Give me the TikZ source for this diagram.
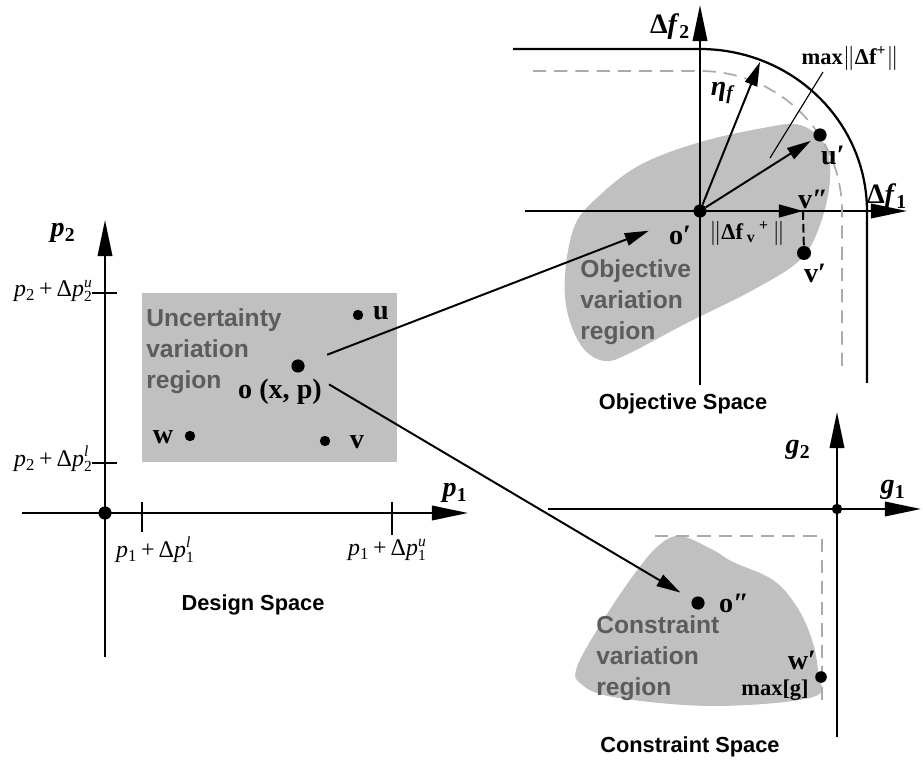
\documentclass[tikz,border=0pt]{standalone}
\usepackage{fontspec}
\setmainfont{Liberation Serif}
\setsansfont{Liberation Sans}
\usetikzlibrary{arrows.meta,positioning}

\definecolor{regionfill}{RGB}{192,192,192}
\definecolor{regiontext}{RGB}{92,92,92}
\definecolor{boundgray}{RGB}{170,170,170}

\newcommand\axlab[2]{\textbf{\textit{#1}}\textsubscript{\textbf{#2}}}
\newcommand\scrstack[2]{\raisebox{-0.2em}{\fontsize{11}{11}\selectfont\shortstack[l]{#1\\#2}}}
\newcommand\pdelta[2]{\textit{p}\textsubscript{#1}\,+\,Δ\textit{p}\scrstack{\textit{#2}}{#1}}

\tikzset{
  dot/.style={
    shape = circle,
    fill,
    inner sep = 0pt,
    minimum size = 0.33cm
  },
  smalldot/.style={
    dot,
    minimum size = 0.26cm
  },
  axis/.style={
    line width = 1.6pt,
    -{Triangle[length=0.9cm,width=0.36cm]}
  },
  flow/.style={
    line width = 1.4pt,
    -{Triangle[length=0.6cm,width=0.32cm]}
  },
  bound/.style={
    line width = 1.2pt,
    boundgray,
    dash pattern = on 0.33cm off 0.2cm
  },
  ptlabel/.style={
    inner sep = 0pt,
    font = \fontsize{20}{24}\selectfont\bfseries
  },
  smalllabel/.style={
    inner sep = 0pt,
    font = \fontsize{16}{19}\selectfont\bfseries
  },
  mathlabel/.style={
    inner sep = 0pt,
    font = \fontsize{17}{20}\selectfont
  },
  regionlabel/.style={
    inner sep = 0pt,
    anchor = west,
    align = left,
    text = regiontext,
    font = \sffamily\bfseries\fontsize{17.5}{22}\selectfont
  },
  spacetitle/.style={
    inner sep = 0pt,
    font = \sffamily\bfseries\fontsize{15.5}{18}\selectfont
  }
}

\begin{document}
\begin{tikzpicture}[x=0.025cm, y=-0.025cm]
        \useasboundingbox (0,0) rectangle (923,761);

        % variation regions
        \fill[regionfill] (142,293) rectangle (397,462);
        \fill[regionfill] plot[smooth cycle, tension=0.6] coordinates {
            (575,225) (600,195) (640,165) (697,143) (763,128) (800,125) (825,145)
            (830,180) (820,225) (800,260) (753,290) (687,323) (630,353) (605,361)
            (583,348) (568,315) (565,275)};
        \fill[regionfill] plot[smooth cycle, tension=0.6] coordinates {
            (680,536) (713,550) (733,562) (773,580) (797,607) (812,640) (818,673)
            (813,697) (713,706) (613,697) (580,683) (577,667) (597,630) (630,580)
            (657,547)};

        % design space
        \draw[axis] (22,513) -- (468,513);
        \draw[axis] (105,657) -- (105,220);
        \draw[line width=1.6pt] (92,293) --++ (25,0);
        \draw[line width=1.6pt] (92,463) --++ (25,0);
        \draw[line width=1.6pt] (142,502) --++ (0,30);
        \draw[line width=1.6pt] (392,502) --++ (0,33);

        \node[dot] (porig) at (105,513) {};
        \node[dot] (o) at (298,366) {};
        \node[smalldot] (u) at (358,315) {};
        \node[smalldot] (w) at (190,436) {};
        \node[smalldot] (v) at (325,441) {};

        \node[ptlabel] (p2lab) at (63,233) {\axlab{p}{2}};
        \node[ptlabel] (p1lab) at (455,493) {\axlab{p}{1}};
        \node[mathlabel] (p2up) at (53,291) {\pdelta{2}{u}};
        \node[mathlabel] (p2lo) at (53,459) {\pdelta{2}{l}};
        \node[mathlabel] (p1lo) at (155,550) {\pdelta{1}{l}};
        \node[mathlabel] (p1up) at (387,550) {\pdelta{1}{u}};

        \node[regionlabel] (uvr) at (146,351) {Uncertainty\\variation\\region};
        \node[ptlabel] (ulab) at (381,313) {u};
        \node[ptlabel] (olab) at (280,392) {o (x, p)};
        \node[ptlabel] (wlab) at (163,437) {w};
        \node[ptlabel] (vlab) at (357,442) {v};
        \node[spacetitle] (dstitle) at (253,605) {Design Space};

        % objective space
        \draw[axis] (525,211) -- (907,211);
        \draw[axis] (700,385) -- (700,5);
        \draw[line width=1.6pt] (513,49) -- (700,49)
            -- plot[domain=-90:0, samples=40] ({700+167*cos(\x)},{211+162*sin(\x)}) -- (867,383);
        \draw[bound] (533,71) -- (700,71)
            -- plot[domain=-90:0, samples=40] ({700+142*cos(\x)},{211+140*sin(\x)}) -- (842,372);

        \node[dot] (oprime) at (700,211) {};
        \node[dot] (uprime) at (820,135) {};
        \node[dot, minimum size=0.35cm] (vprime) at (804,253) {};
        \coordinate (etatip) at (760,62);
        \coordinate (vdd) at (803,211);
        \coordinate (maxstart) at (823,72);
        \coordinate (maxend) at (770,158);

        \draw[flow] (oprime) -- (etatip);
        \draw[flow, shorten >=0.1cm] (oprime) -- (uprime);
        \draw[flow] (oprime) -- (vdd);
        \draw[line width=1.4pt, dash pattern=on 0.22cm off 0.1cm] (vdd) -- (vprime);
        \draw[line width=0.8pt] (maxstart) -- (maxend);

        \node[ptlabel] (df2lab) at (670,27) {\textbf{Δ}\axlab{f}{2}};
        \node[ptlabel] (df1lab) at (887,197) {\textbf{Δ}\axlab{f}{1}};
        \node[ptlabel] (etalab) at (723,93) {\textbf{\textit{η}}\textsubscript{\textit{f}}};
        \node[smalllabel] (maxlab) at (850,58) {max$\|$Δf\textsuperscript{+}$\|$};
        \node[ptlabel] (uplab) at (833,155) {u′};
        \node[ptlabel] (vddlab) at (813,199) {v″};
        \node[ptlabel] (vplab) at (815,273) {v′};
        \node[ptlabel] (oplab) at (680,235) {o′};
        \node[smalllabel] (normlab) at (747,233) {$\|$Δf\,\textsubscript{v}\,\textsuperscript{+}\,$\|$};
        \node[regionlabel] (ovr) at (580,302) {Objective\\variation\\region};
        \node[spacetitle] (ostitle) at (683,404) {Objective Space};

        % constraint space
        \draw[axis] (548,509) -- (921,509);
        \draw[axis] (837,737) -- (837,412);
        \draw[bound] (655,536) -- (822,536) -- (822,708);

        \node[smalldot] (gorig) at (837,509) {};
        \node[dot] (odprime) at (698,603) {};
        \node[smalldot, minimum size=0.29cm] (wprime) at (821,677) {};

        \node[ptlabel] (g2lab) at (798,450) {\axlab{g}{2}};
        \node[ptlabel] (g1lab) at (893,490) {\axlab{g}{1}};
        \node[ptlabel] (odlab) at (734,603) {o″};
        \node[ptlabel] (wplab) at (802,660) {w′};
        \node[smalllabel] (maxglab) at (775,690) {max[g]};
        \node[regionlabel] (cvr) at (596,658) {Constraint\\variation\\region};
        \node[spacetitle] (cstitle) at (690,747) {Constraint Space};

        % mappings
        \draw[flow, shorten <=0.61cm, shorten >=1.2cm] (o) -- (oprime);
        \draw[flow, shorten <=0.73cm, shorten >=0.34cm] (o) -- (odprime);
\end{tikzpicture}
\end{document}
